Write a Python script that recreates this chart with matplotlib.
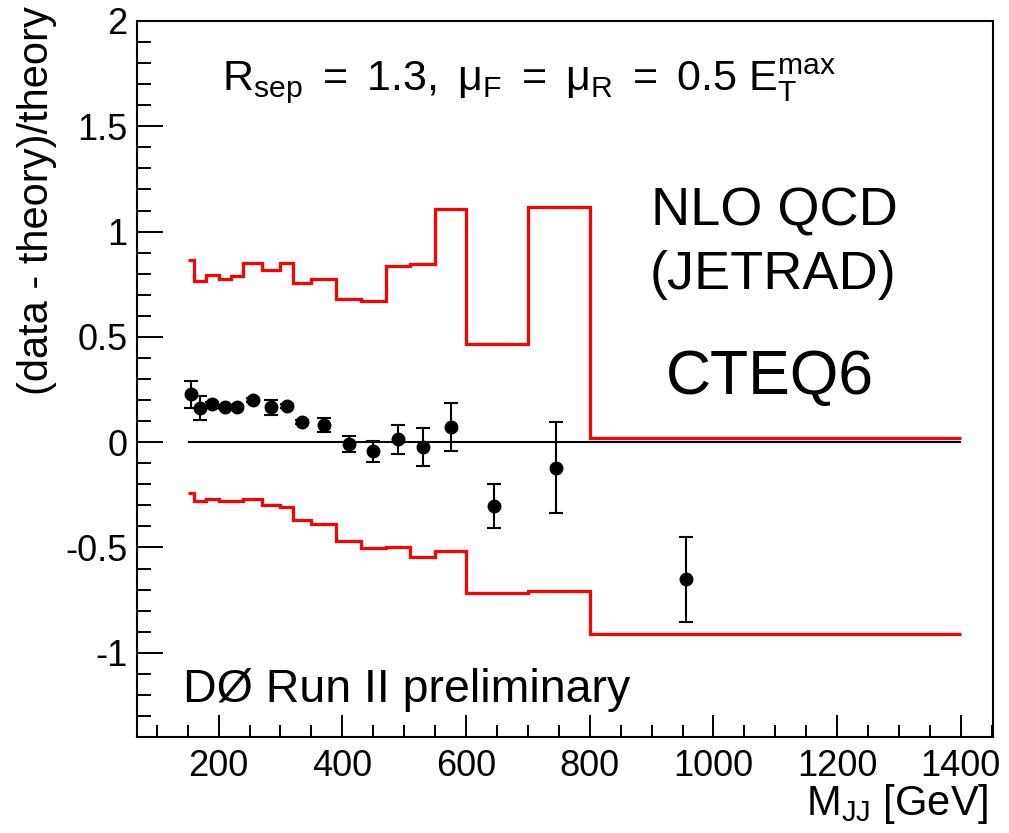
import numpy as np
import matplotlib
matplotlib.use("Agg")
import matplotlib.pyplot as plt
from matplotlib.ticker import MultipleLocator, FuncFormatter

plt.rcParams['font.family'] = ['Liberation Sans', 'DejaVu Sans']
plt.rcParams['mathtext.fontset'] = 'custom'
plt.rcParams['mathtext.rm'] = 'Liberation Sans'
plt.rcParams['mathtext.it'] = 'Liberation Sans'
plt.rcParams['mathtext.sf'] = 'Liberation Sans'
plt.rcParams['axes.unicode_minus'] = False

# theory uncertainty band (bin edges in GeV)
bin_edges = [150, 160, 180, 200, 220, 240, 270, 300, 320, 350, 390, 430,
             470, 510, 550, 600, 700, 800, 1400]
band_up = [0.865, 0.767, 0.795, 0.775, 0.789, 0.849, 0.817, 0.851, 0.756,
           0.775, 0.680, 0.670, 0.838, 0.846, 1.106, 0.468, 1.119, 0.020]
band_lo = [-0.241, -0.281, -0.268, -0.279, -0.279, -0.271, -0.300, -0.306,
           -0.368, -0.387, -0.467, -0.503, -0.497, -0.543, -0.519, -0.716,
           -0.705, -0.911]

# data points
mjj = [155, 170, 190, 210, 230, 255, 285, 310, 335, 370, 410, 450, 490,
       530, 575, 645, 745, 955]
ratio = [0.227, 0.163, 0.179, 0.166, 0.166, 0.200, 0.166, 0.171, 0.097,
         0.081, -0.008, -0.043, 0.013, -0.022, 0.073, -0.303, -0.121, -0.652]
ratio_err = [0.065, 0.058, 0.010, 0.010, 0.010, 0.010, 0.035, 0.010, 0.010,
             0.032, 0.038, 0.050, 0.070, 0.090, 0.115, 0.104, 0.215, 0.203]

fig = plt.figure(figsize=(10.09, 8.33), dpi=100)
ax = fig.add_axes([137/1009, 1 - 737/833, (993 - 137)/1009, (737 - 21)/833])

ax.stairs(band_up, bin_edges, color='#ff0000', lw=2.3, baseline=None)
ax.stairs(band_lo, bin_edges, color='#ff0000', lw=2.3, baseline=None)
ax.hlines(0, bin_edges[0], bin_edges[-1], color='black', lw=1.5)
ax.errorbar(mjj, ratio, yerr=ratio_err, fmt='o', color='black', ms=9,
            elinewidth=1.5, capsize=5, capthick=1.5)

ax.set_xlim(68, 1452)
ax.set_ylim(-1.4, 2.0)
ax.xaxis.set_major_locator(MultipleLocator(200))
ax.xaxis.set_minor_locator(MultipleLocator(50))
ax.yaxis.set_major_locator(MultipleLocator(0.5))
ax.yaxis.set_minor_locator(MultipleLocator(0.1))
ax.yaxis.set_major_formatter(FuncFormatter(lambda v, p: '{:g}'.format(round(v, 2))))
ax.tick_params(which='both', direction='in', top=False, right=False,
               labelsize=26, width=1.4)
ax.tick_params(axis='y', which='major', length=19, pad=7)
ax.tick_params(axis='y', which='minor', length=10)
ax.tick_params(axis='x', which='major', length=16, pad=9)
ax.tick_params(axis='x', which='minor', length=9)
for s in ax.spines.values():
    s.set_linewidth(1.5)

ax.text(205, 1.67, r'$\mathregular{R_{sep}\ =\ 1.3,\ \mu_{F}\ =\ \mu_{R}\ =\ 0.5\ E_{T}^{max}}$',
        fontsize=31, ha='left', va='baseline')
ax.text(1098, 1.03, 'NLO QCD', fontsize=39, ha='center', va='baseline')
ax.text(1096, 0.725, '(JETRAD)', fontsize=39, ha='center', va='baseline')
ax.text(1091, 0.229, 'CTEQ6', fontsize=45, ha='center', va='baseline')
ax.text(142, -1.233, 'DØ Run II preliminary', fontsize=33.5, ha='left', va='baseline')

fig.text(988/1009, 1 - 815/833, r'M$_{\mathregular{JJ}}$ [GeV]', fontsize=30,
         ha='right', va='baseline')
fig.text(37/1009, 1 - 6/833, '(data - theory)/theory', fontsize=30,
         rotation=90, ha='center', va='top')

fig.savefig('out.png', dpi=100)
